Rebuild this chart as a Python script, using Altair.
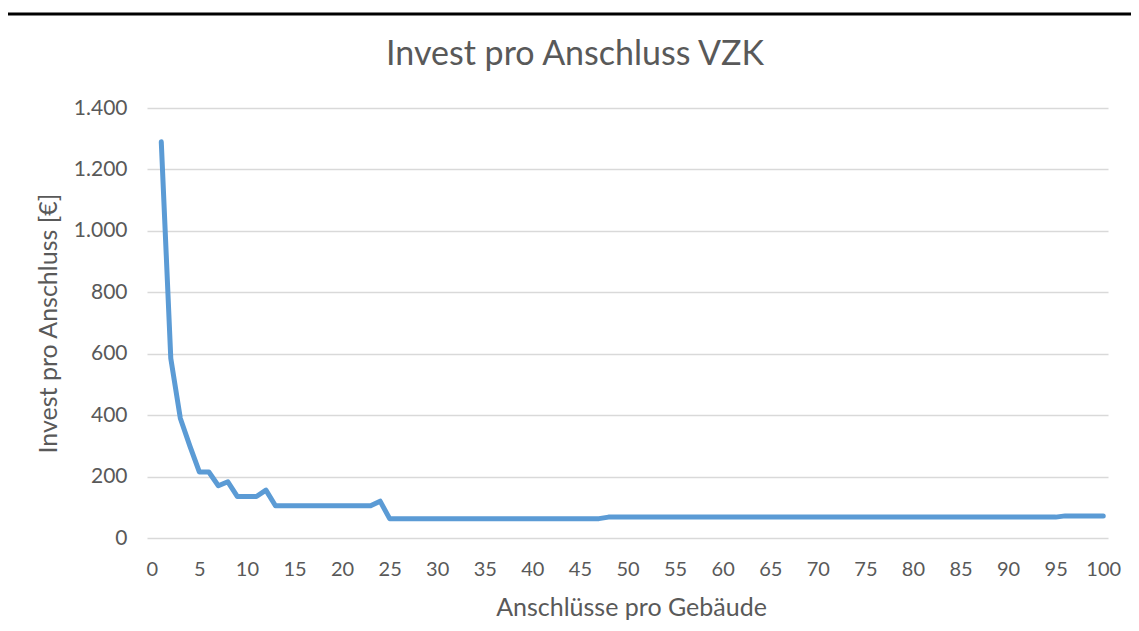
import altair as alt
import pandas as pd

# Data
connections = list(range(1, 101))
invest = (
    [1290, 585, 390, 300, 215, 215, 170, 183, 135, 135, 135, 156]
    + [105] * 11          # 13..23
    + [120]               # 24
    + [63] * 23           # 25..47
    + [68] * 48           # 48..95
    + [72] * 5            # 96..100
)
y_ticks = [0, 200, 400, 600, 800, 1000, 1200, 1400]
x_ticks = list(range(0, 101, 5))

title_text = "Invest pro Anschluss VZK"
x_title = "Anschlüsse pro Gebäude"
y_title = "Invest pro Anschluss [€]"

df = pd.DataFrame({"n": connections, "v": invest})

FONT = "Lato"
TXT = "#595959"

line = alt.Chart(df).mark_line(
    color="#5B9BD5", strokeWidth=5, strokeCap="round", strokeJoin="round"
).encode(
    x=alt.X(
        "n:Q",
        scale=alt.Scale(domain=[-0.5, 100.5], nice=False, zero=False),
        axis=alt.Axis(
            values=x_ticks, grid=False, domain=False, ticks=False,
            labelPadding=31, labelFontSize=20, labelColor=TXT, labelFont=FONT,
            labelBaseline="middle",
            title=x_title, titleFontSize=25, titleColor=TXT, titleFont=FONT,
            titleFontWeight="normal", titleX=484, titleY=69, titleBaseline="middle",
        ),
    ),
    y=alt.Y(
        "v:Q",
        scale=alt.Scale(domain=[0, 1400], nice=False),
        axis=alt.Axis(
            values=y_ticks, grid=True, gridColor="#D9D9D9", gridWidth=1.5,
            domain=False, ticks=False, labelPadding=20,
            labelFontSize=21, labelColor=TXT, labelFont=FONT,
            labelExpr="replace(format(datum.value, ','), ',', '.')",
            title=y_title, titleFontSize=25, titleColor=TXT, titleFont=FONT,
            titleFontWeight="normal", titleAngle=270, titleX=-99, titleY=215,
            titleAlign="center", titleBaseline="middle",
        ),
    ),
)

title = alt.Chart(pd.DataFrame({"t": [title_text]})).mark_text(
    font=FONT, fontSize=34, color=TXT, align="center", baseline="middle"
).encode(x=alt.value(428), y=alt.value(-53), text="t:N")

topline = alt.Chart(pd.DataFrame({"a": [0]})).mark_rule(
    color="#000000", strokeWidth=3
).encode(x=alt.value(-139), x2=alt.value(984), y=alt.value(-94))

chart = alt.layer(line, title, topline).properties(
    width=961, height=430,
    background="white",
    padding={"left": 139, "top": 100, "right": 23, "bottom": 85},
    autosize=alt.AutoSizeParams(type="none"),
).configure_view(strokeWidth=0, stroke=None)

chart.save("out.html", embed_options={"renderer": "svg", "actions": False})
